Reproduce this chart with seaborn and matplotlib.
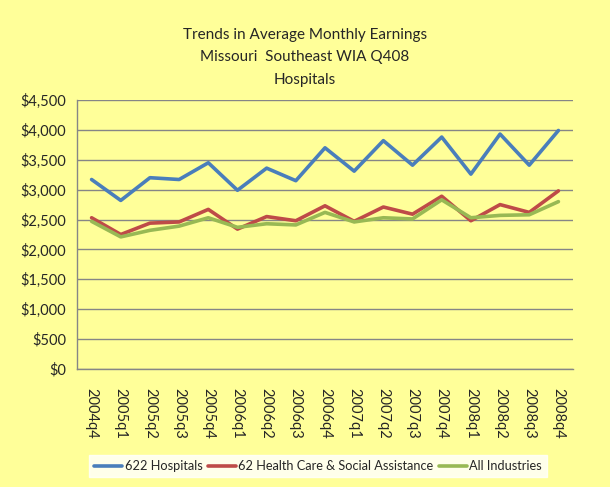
import matplotlib
matplotlib.use("Agg")
import matplotlib.pyplot as plt
import seaborn as sns
import pandas as pd
import numpy as np
from matplotlib.ticker import FuncFormatter, FixedLocator

quarters = ["2004q4", "2005q1", "2005q2", "2005q3", "2005q4", "2006q1", "2006q2", "2006q3",
            "2006q4", "2007q1", "2007q2", "2007q3", "2007q4", "2008q1", "2008q2", "2008q3", "2008q4"]
hospitals = [3170, 2820, 3200, 3170, 3450, 2990, 3360, 3150, 3700, 3310, 3820, 3410, 3880, 3260, 3930, 3410, 3990]
health_care = [2530, 2250, 2440, 2460, 2670, 2340, 2550, 2480, 2730, 2470, 2710, 2590, 2890, 2480, 2750, 2620, 2980]
all_industries = [2470, 2210, 2320, 2390, 2530, 2370, 2430, 2410, 2620, 2460, 2530, 2510, 2830, 2530, 2570, 2580, 2800]
series_names = ["622 Hospitals", "62 Health Care & Social Assistance", "All Industries"]
colors = ["#4A7EBB", "#BE4B48", "#98B954"]

sns.set_theme(style="white")
plt.rcParams['font.family'] = ['Lato', 'DejaVu Sans']

df = pd.DataFrame({"quarter": quarters * 3,
                   "x": list(range(len(quarters))) * 3,
                   "value": hospitals + health_care + all_industries,
                   "series": [series_names[0]] * 17 + [series_names[1]] * 17 + [series_names[2]] * 17})

bg = "#FFFF99"
fig = plt.figure(figsize=(6.10, 4.87), dpi=100, facecolor=bg)
ax = fig.add_axes([77/610, 1 - 369/487, (573-77)/610, (369-100)/487])
ax.set_facecolor(bg)

sns.lineplot(data=df, x="x", y="value", hue="series", palette=colors, linewidth=2.6,
             ax=ax, legend=False, sort=False)

ax.set_xlim(-0.5, len(quarters) - 0.5)
ax.set_ylim(0, 4500)
ax.set_yticks(np.arange(0, 4501, 500))
ax.yaxis.set_major_formatter(FuncFormatter(lambda v, p: f"${int(v):,}"))
ax.yaxis.grid(True, color="#868686", linewidth=1.0)
ax.set_axisbelow(True)

ax.xaxis.set_major_locator(FixedLocator(np.arange(-0.5, len(quarters), 1.0)))
ax.xaxis.set_major_formatter(FuncFormatter(lambda v, p: ""))
ax.xaxis.set_minor_locator(FixedLocator(np.arange(len(quarters))))
ax.set_xticklabels(quarters, minor=True, rotation=-90, fontsize=10.5)
ax.tick_params(axis="x", which="major", direction="out", length=5, color="#868686", width=1)
ax.tick_params(axis="x", which="minor", length=0, pad=14)
ax.tick_params(axis="y", direction="out", length=5, color="#868686", width=1, labelsize=10.5, pad=3)

for s in ["top", "right"]:
    ax.spines[s].set_visible(False)
for s in ["left", "bottom"]:
    ax.spines[s].set_color("#868686")
    ax.spines[s].set_linewidth(1)

ax.set_xlabel("")
ax.set_ylabel("")

fig.text(0.5, 1 - 35/487, "Trends in Average Monthly Earnings", ha="center", va="center", fontsize=11)
fig.text(0.5, 1 - 57/487, "Missouri  Southeast WIA Q408", ha="center", va="center", fontsize=11)
fig.text(0.5, 1 - 80/487, "Hospitals", ha="center", va="center", fontsize=11)

handles = [plt.Line2D([0], [0], color=c, linewidth=2.6) for c in colors]
leg = fig.legend(handles, series_names, loc="center", bbox_to_anchor=(318/610, 1 - 466/487),
                 ncol=3, frameon=True, fancybox=False, fontsize=9.2, handlelength=2.2,
                 handletextpad=0.2, columnspacing=0.4, borderpad=0.4)
leg.get_frame().set_facecolor("white")
leg.get_frame().set_edgecolor("white")

fig.savefig("out.png", dpi=100, facecolor=bg)
